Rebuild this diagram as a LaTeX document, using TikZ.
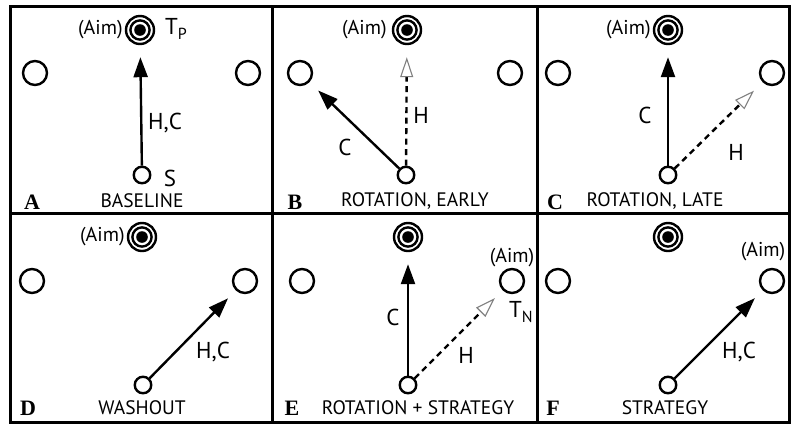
\documentclass[tikz,border=0pt]{standalone}
\usepackage{fontspec}
\setmainfont{PT Sans}
\newfontfamily\serifb{Liberation Serif}
\usetikzlibrary{arrows.meta,positioning}
\newcommand{\subtxt}[1]{\raisebox{-5pt}{\fontsize{16}{16}\selectfont #1}}
\begin{document}
\begin{tikzpicture}[x=1pt,y=-1pt,
 tgt/.style={circle,draw,line width=2.4pt,minimum size=28pt,inner sep=0pt},
 sidecirc/.style={circle,draw,line width=2.4pt,minimum size=24pt,inner sep=0pt},
 startcirc/.style={circle,draw,line width=2.4pt,minimum size=16.5pt,inner sep=0pt},
 lab/.style={font=\fontsize{23}{23}\selectfont,inner sep=0pt},
 captxt/.style={font=\fontsize{19.5}{19.5}\selectfont,inner sep=0pt},
 aimtxt/.style={font=\fontsize{20}{20}\selectfont,inner sep=0pt},
 lettertxt/.style={font=\serifb\bfseries\fontsize{22}{22}\selectfont,inner sep=0pt},
 solidarrow/.style={line width=2.4pt,-{Triangle[length=20pt,width=14pt]}},
 dasharrow/.style={line width=2.4pt,dash pattern=on 6pt off 4.5pt,-{Triangle[open,length=20pt,width=13pt,line width=1.1pt,color=gray]}},
 framelines/.style={line width=3pt}
]
\useasboundingbox (0,0) rectangle (791,424);
% frame
\draw[framelines] (10,6) rectangle (789,422);
\draw[framelines] (10,213) -- (789,213);
\draw[framelines] (272,6) -- (272,422);
\draw[framelines] (537,6) -- (537,422);

\newcommand{\rings}[1]{%
  \draw[line width=2.4pt] (#1) circle (9.6pt);
  \fill (#1) circle (5.8pt);}

% ---------- Panel A ----------
\node[tgt] (tA) at (140,30) {}; \rings{tA}
\node[sidecirc] (lA) at (35,73) {};
\node[sidecirc] (rA) at (248,73) {};
\node[startcirc] (sA) at (142,175) {};
\draw[solidarrow,shorten >=12pt] (sA) -- (tA);
\node[aimtxt,left=2pt of tA] (aimA) {(Aim)};
\node[lab,anchor=west] (tpA) at (165,29) {T\subtxt{P}};
\node[lab] (hcA) at (165,123) {H,C};
\node[lab] (sAl) at (170,178) {S};
\node[lettertxt] (letA) at (32,202) {A};
\node[captxt] (capA) at (142,201) {BASELINE};

% ---------- Panel B ----------
\node[tgt] (tB) at (407,30) {}; \rings{tB}
\node[sidecirc] (lB) at (300,73) {};
\node[sidecirc] (rB) at (510,73) {};
\node[startcirc] (sB) at (406,175) {};
\draw[solidarrow,shorten >=12pt] (sB) -- (lB);
\draw[dasharrow,shorten >=12pt] (sB) -- (tB);
\node[aimtxt,left=5pt of tB] (aimB) {(Aim)};
\node[lab] (hB) at (421,115) {H};
\node[lab] (cB) at (345,147) {C};
\node[lettertxt] (letB) at (295,202) {B};
\node[captxt] (capB) at (415,201) {ROTATION, EARLY};

% ---------- Panel C ----------
\node[tgt] (tC) at (668,30) {}; \rings{tC}
\node[sidecirc] (lC) at (558,73) {};
\node[sidecirc] (rC) at (772,73) {};
\node[startcirc] (sC) at (668,175) {};
\draw[solidarrow,shorten >=12pt] (sC) -- (tC);
\draw[dasharrow,shorten >=12pt] (sC) -- (rC);
\node[aimtxt,left=2pt of tC] (aimC) {(Aim)};
\node[lab] (cC) at (645,115) {C};
\node[lab] (hC) at (736,152) {H};
\node[lettertxt] (letC) at (555,202) {C};
\node[captxt] (capC) at (655,201) {ROTATION, LATE};

% ---------- Panel D ----------
\node[tgt] (tD) at (142,237) {}; \rings{tD}
\node[sidecirc] (lD) at (32,281) {};
\node[sidecirc] (rD) at (245,281) {};
\node[startcirc] (sD) at (143,385) {};
\draw[solidarrow,shorten >=11pt] (sD) -- (rD);
\node[aimtxt,left=2pt of tD] (aimD) {(Aim)};
\node[lab] (hcD) at (213,352) {H,C};
\node[lettertxt] (letD) at (28,408) {D};
\node[captxt] (capD) at (142,408) {WASHOUT};

% ---------- Panel E ----------
\node[tgt] (tE) at (408,237) {}; \rings{tE}
\node[sidecirc] (lE) at (302,281) {};
\node[sidecirc] (rE) at (512,281) {};
\node[startcirc] (sE) at (408,385) {};
\draw[solidarrow,shorten >=12pt] (sE) -- (tE);
\draw[dasharrow,shorten >=11pt] (sE) -- (rE);
\node[aimtxt] (aimE) at (512,258) {(Aim)};
\node[lab,anchor=west] (tnE) at (509,312) {T\subtxt{N}};
\node[lab] (cE) at (393,317) {C};
\node[lab] (hE) at (466,355) {H};
\node[lettertxt] (letE) at (292,408) {E};
\node[captxt] (capE) at (418,408) {ROTATION + STRATEGY};

% ---------- Panel F ----------
\node[tgt] (tF) at (668,237) {}; \rings{tF}
\node[sidecirc] (lF) at (558,281) {};
\node[sidecirc] (rF) at (772,281) {};
\node[startcirc] (sF) at (668,385) {};
\draw[solidarrow,shorten >=11pt] (sF) -- (rF);
\node[aimtxt] (aimF) at (763,252) {(Aim)};
\node[lab] (hcF) at (739,352) {H,C};
\node[lettertxt] (letF) at (553,408) {F};
\node[captxt] (capF) at (665,408) {STRATEGY};
\end{tikzpicture}
\end{document}
